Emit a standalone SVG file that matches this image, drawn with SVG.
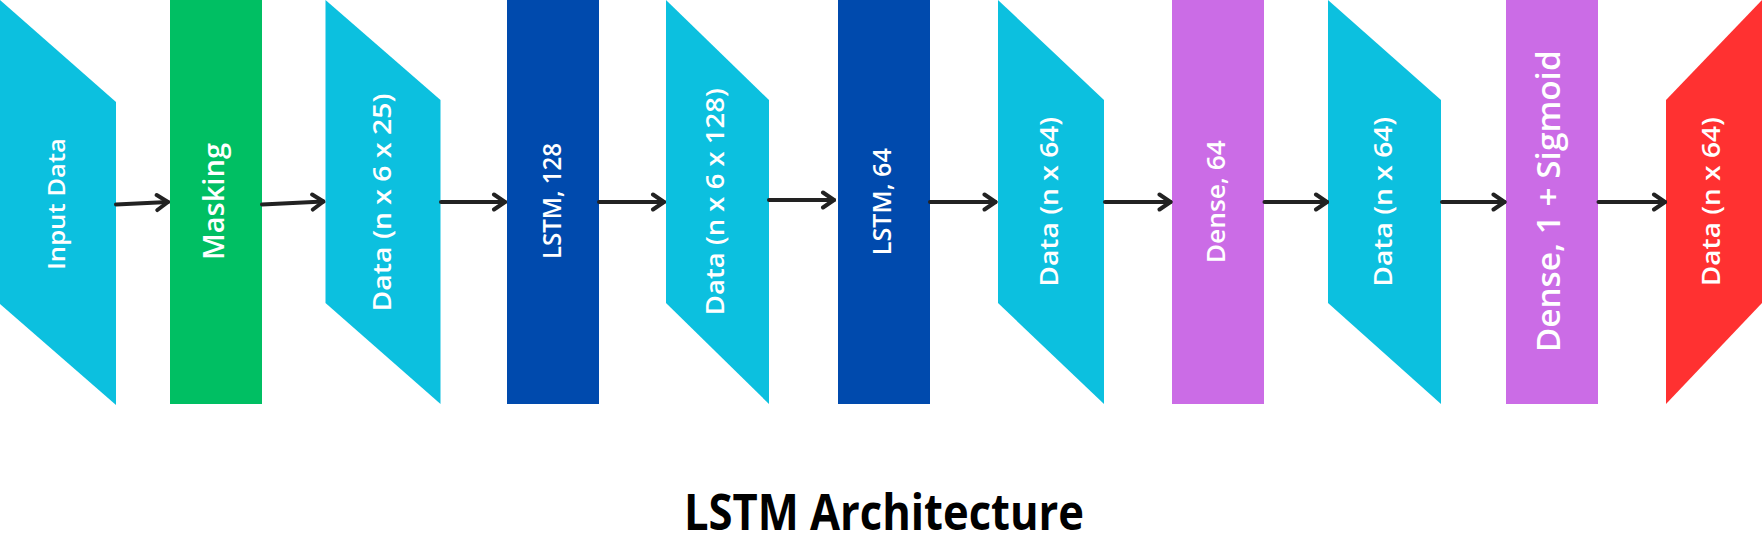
<svg xmlns="http://www.w3.org/2000/svg" width="1762" height="559" viewBox="0 0 1762 559">
<style>
.cyan{fill:#0CC0DF}
.green{fill:#00BF63}
.blue{fill:#004AAD}
.purple{fill:#CB6CE6}
.red{fill:#FF3131}
.lbl{font-family:"Open Sans","Liberation Sans",sans-serif;font-weight:600;fill:#FFFFFF;text-anchor:middle}
.title{font-family:"Open Sans","Liberation Sans",sans-serif;font-weight:700;fill:#000000;text-anchor:middle}
.conn{stroke:#222222;stroke-width:4;stroke-linecap:round;fill:none;marker-end:url(#arr)}
</style>
<defs>
<marker id="arr" markerUnits="userSpaceOnUse" viewBox="-14 -10 16 20" markerWidth="16" markerHeight="20" refX="0" refY="0" orient="auto">
<path d="M-11,-7.5 L0,0 L-11,7.5" fill="none" stroke="#222222" stroke-width="4" stroke-linecap="round" stroke-linejoin="round"/>
</marker>
</defs>
<rect width="1762" height="559" fill="#FFFFFF"/>

<g id="input-data">
<polygon class="cyan" points="0,0 116,102 116,405 0,304"/>
<text class="lbl" font-size="24" textLength="132" lengthAdjust="spacingAndGlyphs" transform="translate(64.5,204) rotate(-90)">Input Data</text>
</g>
<g id="masking">
<rect class="green" x="170" y="0" width="92" height="404"/>
<text class="lbl" font-size="29" textLength="117" lengthAdjust="spacingAndGlyphs" transform="translate(224,201.5) rotate(-90)">Masking</text>
</g>
<g id="data-n-6-25">
<polygon class="cyan" points="325.5,0 440.5,100 440.5,404 325.5,303"/>
<text class="lbl" font-size="26" textLength="218" lengthAdjust="spacingAndGlyphs" transform="translate(390.5,202.5) rotate(-90)">Data (n x 6 x 25)</text>
</g>
<g id="lstm-128">
<rect class="blue" x="507" y="0" width="92" height="404"/>
<text class="lbl" font-size="26" textLength="116" lengthAdjust="spacingAndGlyphs" transform="translate(560.5,201) rotate(-90)">LSTM, 128</text>
</g>
<g id="data-n-6-128">
<polygon class="cyan" points="666,0 769,100 769,404 666,303"/>
<text class="lbl" font-size="26" textLength="227" lengthAdjust="spacingAndGlyphs" transform="translate(723.5,201.7) rotate(-90)">Data (n x 6 x 128)</text>
</g>
<g id="lstm-64">
<rect class="blue" x="838" y="0" width="92" height="404"/>
<text class="lbl" font-size="26" textLength="107" lengthAdjust="spacingAndGlyphs" transform="translate(891,201.7) rotate(-90)">LSTM, 64</text>
</g>
<g id="data-n-64-a">
<polygon class="cyan" points="998,0 1104,100 1104,404 998,303"/>
<text class="lbl" font-size="26" textLength="170" lengthAdjust="spacingAndGlyphs" transform="translate(1058,201.7) rotate(-90)">Data (n x 64)</text>
</g>
<g id="dense-64">
<rect class="purple" x="1172" y="0" width="92" height="404"/>
<text class="lbl" font-size="26" textLength="123" lengthAdjust="spacingAndGlyphs" transform="translate(1225,201.7) rotate(-90)">Dense, 64</text>
</g>
<g id="data-n-64-b">
<polygon class="cyan" points="1328,0 1441,100 1441,404 1328,303"/>
<text class="lbl" font-size="26" textLength="170" lengthAdjust="spacingAndGlyphs" transform="translate(1391.5,201.7) rotate(-90)">Data (n x 64)</text>
</g>
<g id="dense-1-sigmoid">
<rect class="purple" x="1506" y="0" width="92" height="404"/>
<text class="lbl" font-size="33" textLength="302" lengthAdjust="spacingAndGlyphs" transform="translate(1560,201.3) rotate(-90)">Dense, 1 + Sigmoid</text>
</g>
<g id="output-data">
<polygon class="red" points="1762,0 1666,100 1666,404 1762,303"/>
<text class="lbl" font-size="26" textLength="169" lengthAdjust="spacingAndGlyphs" transform="translate(1720,201.7) rotate(-90)">Data (n x 64)</text>
</g>

<g id="connectors">
<line class="conn" x1="116" y1="204.5" x2="168" y2="202"/>
<line class="conn" x1="262" y1="204.5" x2="323.5" y2="201.5"/>
<line class="conn" x1="441" y1="202" x2="505" y2="202"/>
<line class="conn" x1="599" y1="202" x2="664" y2="202"/>
<line class="conn" x1="769" y1="200" x2="834" y2="200"/>
<line class="conn" x1="930" y1="202" x2="995.5" y2="202"/>
<line class="conn" x1="1105" y1="202" x2="1170.5" y2="202"/>
<line class="conn" x1="1264.5" y1="202" x2="1327" y2="202"/>
<line class="conn" x1="1442" y1="202" x2="1504.5" y2="202"/>
<line class="conn" x1="1598.5" y1="202" x2="1665" y2="202"/>
</g>

<g id="title">
<text class="title" x="884" y="530" font-size="51" textLength="400" lengthAdjust="spacingAndGlyphs">LSTM Architecture</text>
</g>
</svg>
